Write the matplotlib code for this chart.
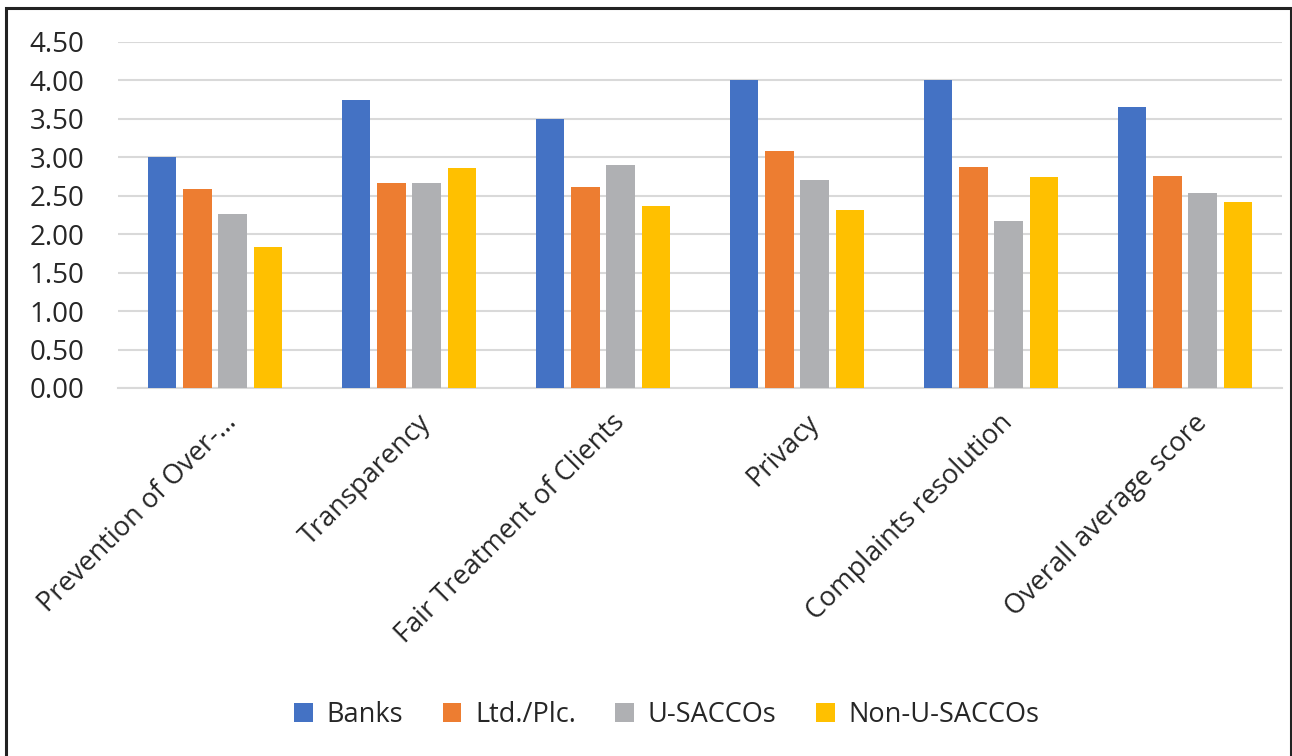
import matplotlib
matplotlib.use("Agg")
import matplotlib.pyplot as plt
import matplotlib.transforms as mtransforms
import numpy as np
from matplotlib.patches import Rectangle

categories = ["Prevention of Over-\u2026", "Transparency", "Fair Treatment of Clients",
              "Privacy", "Complaints resolution", "Overall average score"]
series_names = ["Banks", "Ltd./Plc.", "U-SACCOs", "Non-U-SACCOs"]
banks = [3.00, 3.75, 3.50, 4.00, 4.00, 3.65]
ltd = [2.59, 2.66, 2.61, 3.08, 2.88, 2.76]
usacco = [2.26, 2.67, 2.90, 2.70, 2.17, 2.54]
nonusacco = [1.83, 2.86, 2.37, 2.31, 2.75, 2.42]
colors = ["#4472C4", "#ED7D31", "#AFB0B3", "#FFC000"]
yticks = [0.0, 0.5, 1.0, 1.5, 2.0, 2.5, 3.0, 3.5, 4.0, 4.5]

plt.rcParams['font.family'] = ['Open Sans', 'DejaVu Sans']
FS = 19.5

fig = plt.figure(figsize=(12.92, 7.56), dpi=100)
ax = fig.add_axes([118/1292, 1-388/756, (1282-118)/1292, (388-42)/756])

x = np.arange(len(categories))
step = 0.181
width = 0.145
for i, (vals, name, c) in enumerate(zip([banks, ltd, usacco, nonusacco], series_names, colors)):
    ax.bar(x + (i - 1.5) * step, vals, width=width, color=c, label=name, zorder=3)

ax.set_xlim(-0.5, len(categories) - 0.5)
ax.set_ylim(0, 4.5)
ax.set_yticks(yticks)
ax.set_yticklabels([f"{v:.2f}" for v in yticks], fontsize=FS + 0.5, color="#262626")
ax.yaxis.grid(True, color="#D9D9D9", linewidth=1.5, zorder=0)
ax.tick_params(axis='y', length=0, pad=24)
ax.tick_params(axis='x', length=0, pad=15)
ax.set_xticks(x)
ax.set_xticklabels(categories, rotation=45, ha='right', rotation_mode='anchor',
                   fontsize=FS, color="#262626")
offset = mtransforms.ScaledTranslation(8/100, 0, fig.dpi_scale_trans)
for lab in ax.get_xticklabels():
    lab.set_transform(lab.get_transform() + offset)
for s in ["top", "right", "left"]:
    ax.spines[s].set_visible(False)
ax.spines["bottom"].set_color("#D9D9D9")
ax.spines["bottom"].set_linewidth(1.5)

leg = fig.legend(loc="center", bbox_to_anchor=(0.516, 1-715/756), ncol=4, frameon=False,
                 fontsize=FS, handlelength=0.7, handleheight=0.7, columnspacing=1.45,
                 handletextpad=0.5)
for t in leg.get_texts():
    t.set_color("#262626")

fig.patches.append(Rectangle((6/1292, -0.05), (1291-6)/1292, 1.05 - 8/756,
                             transform=fig.transFigure, fill=False,
                             edgecolor="#222222", linewidth=2.2))

fig.savefig("out.png", dpi=100)
